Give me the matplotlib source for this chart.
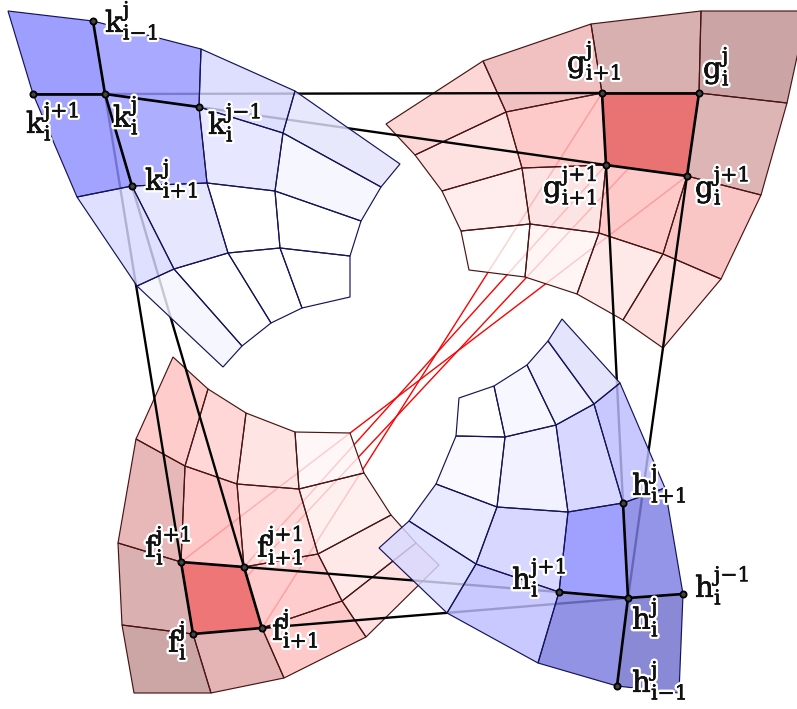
import matplotlib
matplotlib.use("Agg")
import matplotlib.patheffects as pe
import matplotlib.pyplot as plt
from matplotlib.colors import to_rgb

plt.rcParams["mathtext.fontset"] = "dejavuserif"

# vertex grids (x, y in image pixels)
k_x = [[8, 93, 201, 295, 400], [33, 105, 199, 283, 381], [77, 132, 207, 275, 361],
       [137, 174, 228, 280, 350], [223, 242, 271, 302, 350]]
k_y = [[11, 21, 49, 91, 164], [94, 94, 107, 133, 187], [197, 186, 183, 191, 221],
       [286, 269, 253, 248, 256], [367, 346, 323, 308, 297]]
k_colors = [["#9e9eff", "#a9a9ff", "#dedeff", "#e8e8fd"],
            ["#a2a2ff", "#afafff", "#e7e7ff", "#f6f6ff"],
            ["#dfdfff", "#e6e6ff", "#ffffff", "#ffffff"],
            ["#f6f6ff", "#ffffff", "#ffffff", "#ffffff"]]

g_x = [[386, 483, 591, 701, 807], [415, 506, 602, 699, 787], [442, 522, 606, 687, 761],
       [461, 530, 599, 663, 721], [469, 525, 577, 623, 663]]
g_y = [[124, 61, 24, 11, 11], [155, 112, 93, 93, 103], [191, 168, 165, 176, 195],
       [231, 224, 233, 254, 279], [270, 277, 294, 320, 348]]
g_colors = [["#fdd7d7", "#f1c0c0", "#d9b0b0", "#cba6a6"],
            ["#fee2e2", "#fecaca", "#e97272", "#deb5b5"],
            ["#ffecec", "#fde4e4", "#fecaca", "#f9c6c6"],
            ["#ffffff", "#fff5f5", "#ffe8e8", "#ffdede"]]

f_x = [[173, 208, 246, 295, 350], [136, 185, 237, 299, 364], [118, 181, 244, 318, 391],
       [122, 193, 262, 342, 416], [134, 211, 284, 366, 439]]
f_y = [[357, 389, 413, 432, 433], [439, 466, 484, 489, 473], [543, 562, 567, 554, 515],
       [625, 634, 628, 601, 543], [693, 693, 678, 637, 565]]
f_colors = [["#ffcccc", "#ffd8d8", "#ffe4e4", "#fff8f8"],
            ["#e8b8b8", "#ffc8c8", "#ffdcdc", "#fff0f0"],
            ["#dcb0b0", "#ee7676", "#fecccc", "#ffe9e9"],
            ["#cca6a6", "#e4b4b4", "#fecaca", "#ffe0e0"]]

h_x = [[459, 494, 527, 548, 562], [456, 505, 556, 594, 620], [436, 497, 568, 623, 665],
       [409, 476, 559, 628, 683], [379, 447, 538, 617, 679]]
h_y = [[398, 386, 365, 341, 319], [436, 437, 425, 404, 383], [484, 507, 512, 503, 488],
       [521, 564, 592, 598, 594], [548, 613, 663, 686, 693]]
h_colors = [["#ffffff", "#f8f8ff", "#f0f0ff", "#e4e4fd"],
            ["#f9f9ff", "#f2f2ff", "#d8d8ff", "#c8c8ff"],
            ["#eaeaff", "#d8d8ff", "#a0a0ff", "#9494e8"],
            ["#e0e0ff", "#c9c9ff", "#9393e6", "#8989d5"]]

FACE_ALPHA = 0.82


def vertex(xs, ys, row, col):
    return xs[row][col], ys[row][col]


def under_alpha(color):
    # face colour that looks like `color` once it sits on white at FACE_ALPHA
    return tuple(max(0.0, (c - (1 - FACE_ALPHA)) / FACE_ALPHA) for c in to_rgb(color))


def draw_grid(ax, xs, ys, colors, edge, zorder, solid_cell=None):
    for r, row in enumerate(colors):
        for c, color in enumerate(row):
            px = [xs[r][c], xs[r][c + 1], xs[r + 1][c + 1], xs[r + 1][c]]
            py = [ys[r][c], ys[r][c + 1], ys[r + 1][c + 1], ys[r + 1][c]]
            if (r, c) == solid_cell:
                face = color
            else:
                face = (*under_alpha(color), FACE_ALPHA)
            ax.fill(px, py, facecolor=face, edgecolor="none", zorder=zorder)
            ax.fill(px, py, facecolor="none", edgecolor=edge, linewidth=0.85, zorder=zorder + 0.1)


def link(ax, a, b, color, lw, zorder):
    ax.plot([a[0], b[0]], [a[1], b[1]], color=color, linewidth=lw, zorder=zorder, solid_capstyle="round")


def dots(ax, pts):
    ax.scatter([p[0] for p in pts], [p[1] for p in pts], s=20, facecolor="#444444",
               edgecolor="black", linewidth=1.3, zorder=9)


fig = plt.figure(figsize=(7.97, 7.09), dpi=100)
ax = fig.add_axes([0, 0, 1, 1])
ax.set_xlim(0, 797)
ax.set_ylim(709, 0)
ax.axis("off")

K = lambda r, c: vertex(k_x, k_y, r, c)
G = lambda r, c: vertex(g_x, g_y, r, c)
F = lambda r, c: vertex(f_x, f_y, r, c)
H = lambda r, c: vertex(h_x, h_y, r, c)

# red links sit under every grid
for a, b in [(G(1, 2), F(3, 2)), (G(2, 2), F(2, 2)), (G(1, 3), F(3, 1)), (G(2, 3), F(2, 1))]:
    link(ax, a, b, "#ff0000", 1.0, 1)

# the dark stencil cell hides the red link that crosses it
draw_grid(ax, f_x, f_y, f_colors, "#4a1414", 2, solid_cell=(2, 1))
draw_grid(ax, g_x, g_y, g_colors, "#4a1414", 2, solid_cell=(1, 2))

# black links go over f and g but under k and h
for a, b in [(K(1, 1), G(1, 2)), (K(1, 2), G(2, 2)), (K(1, 1), F(2, 1)), (K(2, 1), F(2, 2)),
             (G(2, 2), H(2, 3)), (G(2, 3), H(3, 3)), (H(3, 2), F(2, 2)), (H(3, 3), F(3, 2))]:
    link(ax, a, b, "black", 1.7, 3)

draw_grid(ax, k_x, k_y, k_colors, "#14145a", 4)
draw_grid(ax, h_x, h_y, h_colors, "#14145a", 4)

# stencils on top
for a, b in [(K(0, 1), K(1, 1)), (K(1, 1), K(2, 1)), (K(1, 0), K(1, 1)), (K(1, 1), K(1, 2)),
             (H(4, 3), H(3, 3)), (H(3, 3), H(2, 3)), (H(3, 2), H(3, 3)), (H(3, 3), H(3, 4)),
             (G(1, 2), G(1, 3)), (G(1, 3), G(2, 3)), (G(2, 3), G(2, 2)), (G(2, 2), G(1, 2)),
             (F(2, 1), F(2, 2)), (F(2, 2), F(3, 2)), (F(3, 2), F(3, 1)), (F(3, 1), F(2, 1))]:
    link(ax, a, b, "black", 1.9, 8)

dots(ax, [K(0, 1), K(1, 0), K(1, 1), K(1, 2), K(2, 1),
          G(1, 2), G(1, 3), G(2, 2), G(2, 3),
          F(2, 1), F(2, 2), F(3, 1), F(3, 2),
          H(2, 3), H(3, 2), H(3, 3), H(3, 4), H(4, 3)])

label_text = [
    ("k", "i{-}1", "j"), ("k", "i", "j{+}1"), ("k", "i", "j"), ("k", "i", "j{-}1"), ("k", "i{+}1", "j"),
    ("g", "i{+}1", "j"), ("g", "i", "j"), ("g", "i{+}1", "j{+}1"), ("g", "i", "j{+}1"),
    ("f", "i", "j{+}1"), ("f", "i{+}1", "j{+}1"), ("f", "i", "j"), ("f", "i{+}1", "j"),
    ("h", "i", "j{+}1"), ("h", "i{+}1", "j"), ("h", "i", "j{-}1"), ("h", "i", "j"), ("h", "i{-}1", "j"),
]
label_x = [105, 26, 113, 208, 145, 567, 703, 543, 695, 145, 257, 168, 272, 512, 632, 695, 632, 632]
label_y = [32, 133, 127, 134, 190, 72, 78, 197, 197, 557, 557, 652, 640, 589, 495, 597, 629, 692]

for (base, sub, sup), x, y in zip(label_text, label_x, label_y):
    ax.text(x, y, rf"$\mathrm{{{base}}}_{{\mathrm{{{sub}}}}}^{{\mathrm{{{sup}}}}}$", fontsize=21,
            ha="left", va="baseline", color="#111111", zorder=10,
            path_effects=[pe.withStroke(linewidth=3.8, foreground="white"),
                          pe.withStroke(linewidth=0.35, foreground="#111111")])

fig.savefig("out.png", dpi=100)
